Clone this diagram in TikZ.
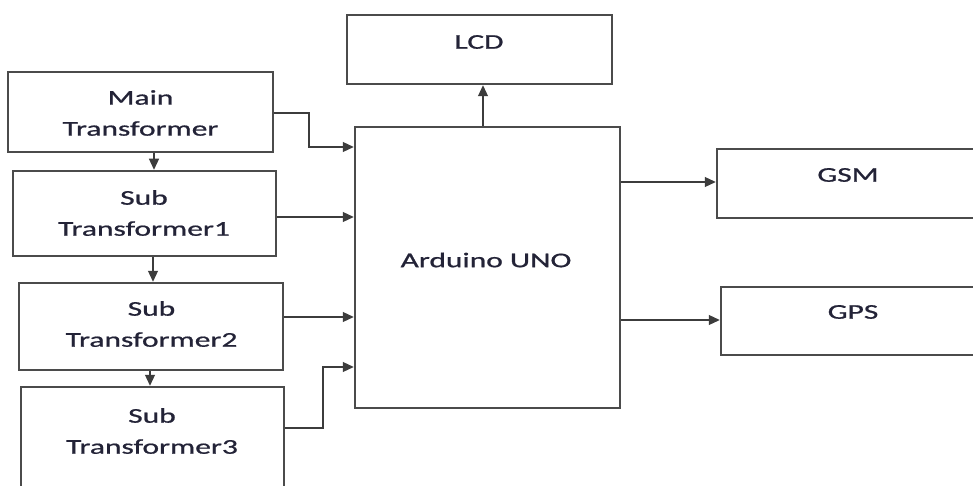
\documentclass[tikz,border=0pt]{standalone}
\usepackage{fontspec}
\usepackage{graphicx}
\setmainfont{Carlito}
\newfontfamily\tfont{Carlito}[FakeBold=0.7]
\usetikzlibrary{arrows.meta}
\definecolor{boxline}{RGB}{75,75,75}
\definecolor{connline}{RGB}{60,60,60}
\definecolor{txt}{RGB}{35,35,55}
\newcommand\sx[1]{\scalebox{1.5}[1]{#1}}
\tikzset{
  blk/.style={draw=boxline, line width=2.5pt, rectangle, inner sep=0pt, fill=none},
  lbl/.style={inner sep=0pt, align=center, text=txt, font=\tfont\fontsize{21}{31}\selectfont},
  conn/.style={draw=connline, line width=1.1pt, -{Triangle[length=11pt,width=10pt]}},
}
\begin{document}
\begin{tikzpicture}[x=1pt,y=-1pt]
\useasboundingbox (0,0) rectangle (973,486);
\clip (0,0) rectangle (973,486);
\fill[white] (0,0) rectangle (973,486);
% boxes
\node[blk, minimum width=265pt, minimum height=80pt] (main) at (140.5,112) {};
\node[blk, minimum width=263pt, minimum height=85pt] (sub1) at (144.5,213.5) {};
\node[blk, minimum width=264pt, minimum height=87pt] (sub2) at (151,326.5) {};
\node[blk, minimum width=263pt, minimum height=113pt] (sub3) at (152.5,443.5) {};
\node[blk, minimum width=265pt, minimum height=69pt] (lcd) at (479.5,49.5) {};
\node[blk, minimum width=265pt, minimum height=281pt] (ard) at (487.5,267.5) {};
\node[blk, minimum width=273pt, minimum height=69pt] (gsm) at (853.5,183.5) {};
\node[blk, minimum width=269pt, minimum height=68pt] (gps) at (855.5,321) {};
% texts
\node[lbl] (tmain) at (140.5,113) {\sx{Main}\\\sx{Transformer}};
\node[lbl] (tsub1) at (144,213) {\sx{Sub}\\\sx{Transformer1}};
\node[lbl] (tsub2) at (151.5,324) {\sx{Sub}\\\sx{Transformer2}};
\node[lbl] (tsub3) at (152,431) {\sx{Sub}\\\sx{Transformer3}};
\node[lbl] (tlcd) at (479,42) {\sx{LCD}};
\node[lbl] (tard) at (486,260) {\sx{Arduino UNO}};
\node[lbl] (tgsm) at (848,175) {\sx{GSM}};
\node[lbl] (tgps) at (853,312) {\sx{GPS}};
% connectors
\draw[conn] (main.south -| 154,0) -- (sub1.north -| 154,0);
\draw[conn] (sub1.south -| 153,0) -- (sub2.north -| 153,0);
\draw[conn] (sub2.south -| 150,0) -- (sub3.north -| 150,0);
\draw[conn] (main.east |- 0,113) -- (309,113) -- (309,147) -- (ard.west |- 0,147);
\draw[conn] (sub1.east |- 0,217) -- (ard.west |- 0,217);
\draw[conn] (sub2.east |- 0,317) -- (ard.west |- 0,317);
\draw[conn] (sub3.east |- 0,428) -- (323,428) -- (323,367) -- (ard.west |- 0,367);
\draw[conn] (ard.north -| 483,0) -- (lcd.south -| 483,0);
\draw[conn] (ard.east |- 0,182) -- (gsm.west |- 0,182);
\draw[conn] (ard.east |- 0,320) -- (gps.west |- 0,320);
\end{tikzpicture}
\end{document}
